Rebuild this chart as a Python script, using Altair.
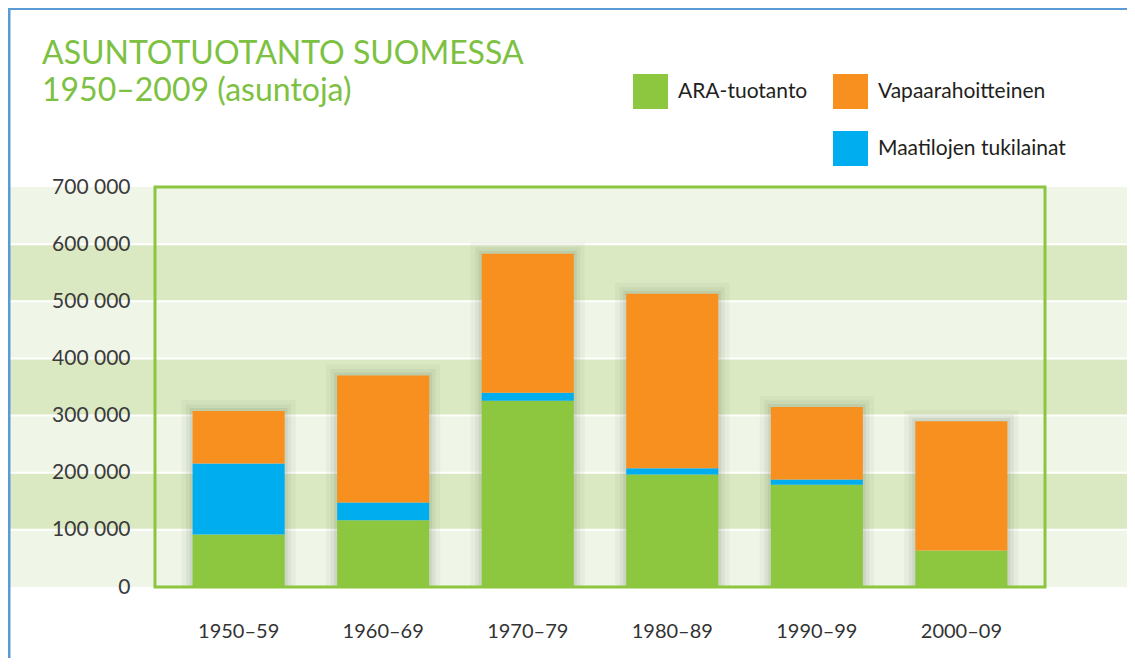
import altair as alt
import pandas as pd

periods = ["1950–59", "1960–69", "1970–79", "1980–89", "1990–99", "2000–09"]
ara = [92000, 117000, 326000, 197000, 179000, 64000]
maatila = [124000, 31000, 14000, 11000, 9000, 0]
vapaa = [92000, 222000, 243000, 305000, 127000, 226000]

series_names = ["ARA-tuotanto", "Maatilojen tukilainat", "Vapaarahoitteinen"]
series_values = [ara, maatila, vapaa]
series_order = [0, 1, 2]

# legend fills column by column: [ARA, blank] then [Vapaa, Maatilojen]
legend_domain = ["ARA-tuotanto", " ", "Vapaarahoitteinen", "Maatilojen tukilainat"]
legend_colors = ["#8dc63f", "transparent", "#f7901e", "#00aeef"]

band_lo = [0, 100000, 200000, 300000, 400000, 500000, 600000]
band_hi = [100000, 200000, 300000, 400000, 500000, 600000, 700000]
band_shade = ["light", "dark", "light", "dark", "light", "dark", "light"]
grid_values = [100000, 200000, 300000, 400000, 500000, 600000]
frame_lo = [0]
frame_hi = [700000]

W, H = 890, 400
PL, PT, PR, PB = 147, 179, 82, 71

rows = []
for name, vals, o in zip(series_names, series_values, series_order):
    for p, v in zip(periods, vals):
        rows.append({"period": p, "series": name, "value": v, "ord": o})
df = pd.DataFrame(rows)

totals = pd.DataFrame({"period": periods,
                       "total": [a + m + v for a, m, v in zip(ara, maatila, vapaa)]})
bands = pd.DataFrame({"lo": band_lo, "hi": band_hi, "shade": band_shade})
grid = pd.DataFrame({"g": grid_values})
frame = pd.DataFrame({"lo": frame_lo, "hi": frame_hi})

yscale = alt.Scale(domain=[0, 700000], nice=False)
xscale = alt.Scale(domain=periods, paddingInner=0.363, paddingOuter=0.26)

band_layer = alt.Chart(bands).mark_rect().encode(
    x=alt.value(-145), x2=alt.value(W + PR),
    y=alt.Y("lo:Q", scale=yscale), y2="hi:Q",
    color=alt.Color("shade:N", scale=alt.Scale(domain=["light", "dark"],
                                                range=["#eff5e7", "#dbe9c3"]),
                    legend=None),
)

grid_layer = alt.Chart(grid).mark_rule(color="white", strokeWidth=2).encode(
    x=alt.value(-145), x2=alt.value(W + PR),
    y=alt.Y("g:Q", scale=yscale),
)

def shadow(width, opacity):
    return alt.Chart(totals).mark_bar(fill="transparent", stroke="#4c5e3e",
                                      strokeOpacity=opacity, strokeWidth=width,
                                      clip=True).encode(
        x=alt.X("period:N", scale=xscale, sort=periods),
        y=alt.Y("total:Q", scale=yscale),
    )

bars = alt.Chart(df).mark_bar(clip=True).encode(
    x=alt.X("period:N", scale=xscale, sort=periods,
            axis=alt.Axis(title=None, labelAngle=0, ticks=False, domain=False,
                          labelAlign="center",
                          labelFont="Lato", labelFontSize=20, labelColor="#333333",
                          labelPadding=44, zindex=1)),
    y=alt.Y("value:Q", scale=yscale, stack="zero",
            axis=alt.Axis(title=None, ticks=False, domain=False, grid=False,
                          values=[0, 100000, 200000, 300000, 400000, 500000, 600000, 700000],
                          labelExpr="replace(format(datum.value, ','), ',', ' ')",
                          labelFont="Lato", labelFontSize=21, labelColor="#3b3b3b",
                          labelPadding=25, zindex=1)),
    color=alt.Color("series:N",
                    scale=alt.Scale(domain=legend_domain, range=legend_colors),
                    legend=alt.Legend(title=None, orient="none", legendX=478, legendY=-113,
                                      columns=2, symbolType="square", symbolSize=1225,
                                      symbolStrokeWidth=0, labelFont="Lato",
                                      labelFontSize=21, labelColor="#231f20",
                                      labelOffset=10, columnPadding=25, rowPadding=22,
                                      padding=0, labelLimit=400)),
    order=alt.Order("ord:Q", sort="ascending"),
)

border = alt.Chart(frame).mark_rect(fill="transparent", stroke="#8cc63f",
                                    strokeWidth=3).encode(
    x=alt.value(0), x2=alt.value(W),
    y=alt.Y("lo:Q", scale=yscale), y2="hi:Q",
)

frame_top = alt.Chart(frame).mark_rule(color="#5b9bd5", strokeWidth=2).encode(
    x=alt.value(-PL), x2=alt.value(W + PR), y=alt.value(-PT + 1),
)
frame_left = alt.Chart(frame).mark_rule(color="#5b9bd5", strokeWidth=3).encode(
    x=alt.value(-PL + 1), y=alt.value(-PT), y2=alt.value(H + PB),
)

chart = alt.layer(band_layer, grid_layer,
                  shadow(22, 0.05), shadow(13, 0.07), shadow(6, 0.09),
                  bars, border, frame_top, frame_left).resolve_scale(
    color="independent").properties(
    width=W, height=H,
    autosize=alt.AutoSizeParams(type="none"),
    padding={"left": PL, "top": PT, "right": PR, "bottom": PB},
    title=alt.Title(text=["ASUNTOTUOTANTO SUOMESSA", "1950–2009 (asuntoja)"],
                    anchor="start", font="Lato", fontSize=32, fontWeight="normal",
                    color="#7dc142", lineHeight=37, dx=-113, dy=101, offset=0,
                    frame="group"),
).configure_view(stroke=None).configure(background="white")

chart.save("out.html", embed_options={"renderer": "svg", "actions": False})
